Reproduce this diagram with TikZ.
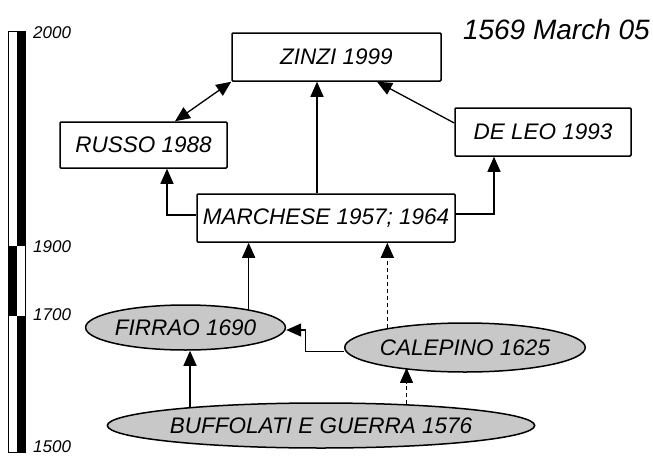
\documentclass[tikz,border=0pt]{standalone}
\usepackage{fontspec}
\setmainfont{Liberation Sans}
\usepackage{tikz}
\usetikzlibrary{shapes,shapes.geometric,arrows.meta,positioning}
\definecolor{ellgrey}{HTML}{C8C8C8}

\begin{document}
\begin{tikzpicture}[
  x=1pt,
  y=-1pt,
  every node/.style={font=\fontsize{22.5}{26}\selectfont\itshape},
  ref/.style={draw=black, line width=1.5pt, fill=white, rounded corners=1pt, inner sep=0pt},
  src/.style={ellipse, draw=black, line width=1.5pt, fill=ellgrey, inner sep=0pt},
  arr/.style={-{Triangle[length=15pt,width=13pt]}, line width=1.3pt},
  biarr/.style={{Triangle[length=15pt,width=13pt]}-{Triangle[length=15pt,width=13pt]}, line width=1.3pt},
  darr/.style={arr, dash pattern=on 4pt off 3pt},
  yearlbl/.style={anchor=west, inner sep=0pt, font=\fontsize{17}{19}\selectfont\itshape}
]
\useasboundingbox (0,0) rectangle (653,455);

% time bar
\draw[line width=1pt, fill=white] (8,31) rectangle (25,452);
\fill (16.5,31) rectangle (25,246);
\fill (8,246) rectangle (16.5,316);
\fill (16.5,316) rectangle (25,452);
\draw[line width=1pt] (8,31) rectangle (25,452);
\node[yearlbl] (y2000) at (33,33) {2000};
\node[yearlbl] (y1900) at (33,247) {1900};
\node[yearlbl] (y1700) at (33,315) {1700};
\node[yearlbl] (y1500) at (33,447) {1500};

% event date
\node[font=\fontsize{28}{32}\selectfont\itshape, anchor=east, inner sep=0pt] (date) at (650,29) {1569 March 05};

% catalogues
\node[ref, minimum width=209pt, minimum height=48pt] (zinzi) at (336.5,57) {ZINZI 1999};
\node[ref, minimum width=167pt, minimum height=46pt] (russo) at (143.5,145) {RUSSO 1988};
\node[ref, minimum width=176pt, minimum height=48pt] (deleo) at (543,132) {DE LEO 1993};
\node[ref, minimum width=258pt, minimum height=48pt] (marchese) at (326,218) {MARCHESE 1957; 1964};

% historical sources
\node[src, minimum width=185pt, minimum height=45pt] (firrao) at (185.5,327.5) {FIRRAO 1690};
\node[src, minimum width=194pt, minimum height=49pt] (calepino) at (465,347.5) {CALEPINO 1625};
\node[src, minimum width=360pt, minimum height=45pt] (buffolati) at (321,425.5) {BUFFOLATI E GUERRA 1576};

% links
\draw[biarr] ([xshift=31.5pt]russo.north) -- (zinzi.south west);
\draw[arr] ([xshift=-9pt]marchese.north) -- ([xshift=-9pt]marchese.north |- zinzi.south);
\draw[arr] ([yshift=9pt]deleo.west) -- ([xshift=40.5pt]zinzi.south);
\draw[arr] ([yshift=3pt]marchese.west) -| ([xshift=23.5pt]russo.south);
\draw[arr] ([yshift=4pt]marchese.east) -| ([xshift=-49pt]deleo.south);
\draw[arr] (firrao.16) -- (firrao.16 |- marchese.south);
\draw[darr] (calepino.166) -- (calepino.166 |- marchese.south);
\draw[arr] ([yshift=-4pt]calepino.west) -| ([xshift=19pt,yshift=-2.5pt]firrao.east) -- ([yshift=-2.5pt]firrao.east);
\draw[arr] (buffolati.172) -- (buffolati.172 |- firrao.south);
\draw[darr] (buffolati.14) -- (buffolati.14 |- calepino.196);
\end{tikzpicture}
\end{document}
